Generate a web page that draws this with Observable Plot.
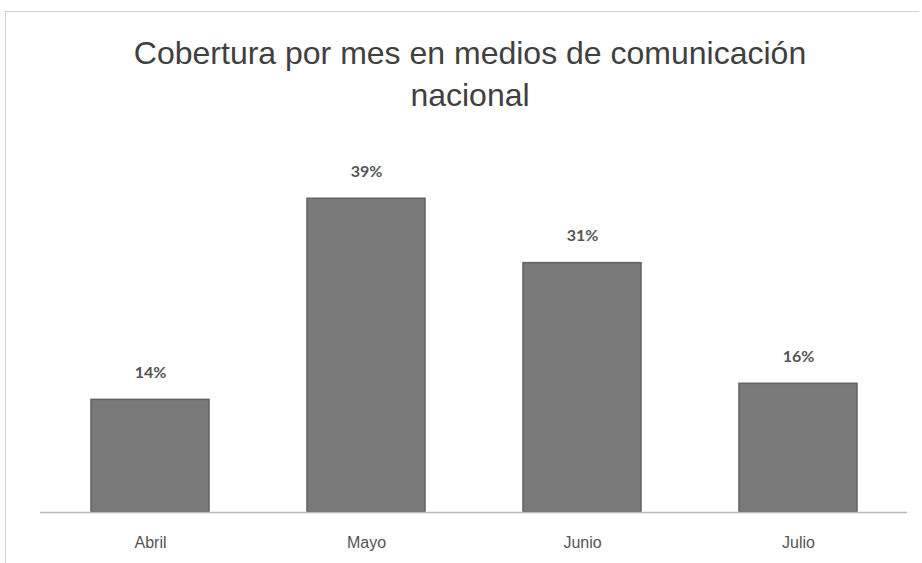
<!DOCTYPE html>
<html>
<head>
<meta charset="utf-8">
<script src="https://cdn.jsdelivr.net/npm/d3@7"></script>
<script src="https://cdn.jsdelivr.net/npm/@observablehq/plot@0.6"></script>
<style>
  html, body { margin: 0; padding: 0; background: #fff; }
  #frame { position: absolute; left: 5px; top: 11px; width: 914px; height: 560px; border-top: 1px solid #d0d0d0; border-left: 1px solid #d0d0d0; box-sizing: border-box; }
  #wrap { position: absolute; left: 0; top: 0; width: 922px; height: 563px; }
  #title { position: absolute; left: 0; top: 32px; width: 940px; text-align: center; font-family: "Liberation Sans", Arial, sans-serif; font-size: 32px; line-height: 42px; color: #404040; }
  #chart { position: absolute; left: 0; top: 120px; }
</style>
</head>
<body>
<div id="frame"></div>
<div id="wrap">
  <div id="title">Cobertura por mes en medios de comunicación<br>nacional</div>
  <div id="chart"></div>
</div>
<script>
const months = ["Abril", "Mayo", "Junio", "Julio"];
const coverage = [14, 39, 31, 16];
const valueLabels = ["14%", "39%", "31%", "16%"];

const data = months.map((m, i) => ({ month: m, value: coverage[i], label: valueLabels[i] }));

const plot = Plot.plot({
  width: 922,
  height: 443,
  marginLeft: 40,
  marginRight: 15,
  marginTop: 30,
  marginBottom: 51,
  x: { domain: months, padding: 0.454, paddingOuter: 0.231, label: null },
  y: { domain: [0, 45], axis: null },
  style: { background: "transparent" },
  marks: [
    Plot.barY(data, { x: "month", y: "value", fill: "#7a7a7a", stroke: "#626262", strokeWidth: 1.5 }),
    Plot.ruleY([0], { stroke: "#b8b8b8", strokeWidth: 1.5 }),
    Plot.text(data, { x: "month", y: "value", text: "label", dy: -27, fill: "#555", fontSize: 16, fontWeight: "bold", fontFamily: "Lato, sans-serif" }),
    Plot.axisX({ tickSize: 0, tickPadding: 24, fontSize: 16, fontFamily: "'Liberation Sans Narrow', 'Liberation Sans', sans-serif", fill: "#555", label: null })
  ]
});
document.getElementById("chart").appendChild(plot);
</script>
</body>
</html>
